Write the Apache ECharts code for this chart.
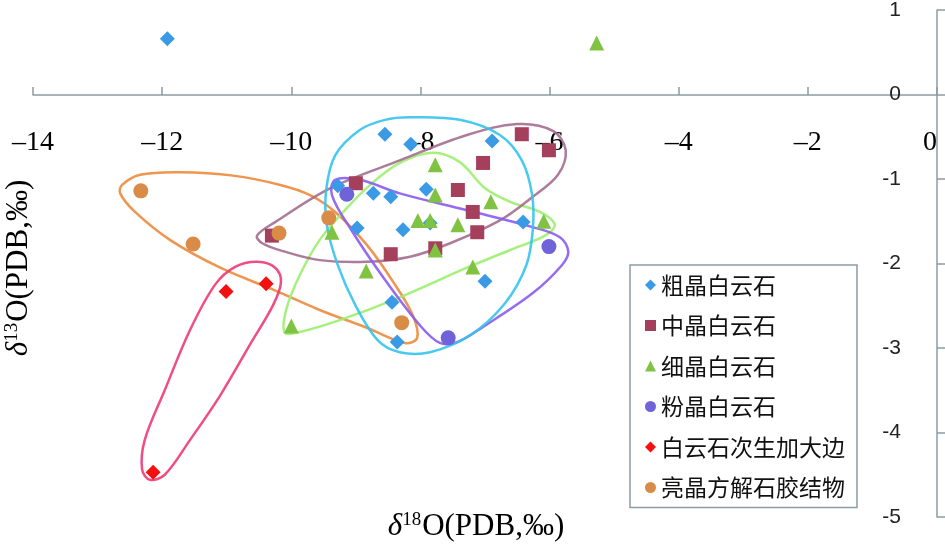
<!DOCTYPE html>
<html>
<head>
<meta charset="utf-8">
<script src="https://cdn.jsdelivr.net/npm/echarts@6/dist/echarts.min.js"></script>
<style>
  html, body { margin: 0; padding: 0; background: #fff; }
  #main { width: 945px; height: 554px; }
</style>
</head>
<body>
<div id="main"></div>
<script>
// series names (legend order)
const seriesNames = ['粗晶白云石', '中晶白云石', '细晶白云石', '粉晶白云石', '白云石次生加大边', '亮晶方解石胶结物']

// [δ18O, δ13C]
const coarse = [[-11.92, 0.66], [-8.55, -0.47], [-8.15, -0.59], [-9.28, -1.08], [-8.73, -1.17], [-8.46, -1.21], [-7.91, -1.12],
  [-8.98, -1.58], [-8.27, -1.60], [-7.85, -1.52], [-8.44, -2.46], [-8.36, -2.93], [-6.89, -0.55], [-6.41, -1.51], [-7.00, -2.21]]
const medium = [[-9.00, -1.05], [-8.46, -1.89], [-7.77, -1.82], [-6.43, -0.47], [-6.01, -0.66], [-7.03, -0.81], [-7.42, -1.13],
  [-7.19, -1.39], [-7.12, -1.63], [-10.30, -1.67]]
const fine = [[-5.27, 0.61], [-7.77, -0.83], [-7.77, -1.19], [-8.04, -1.49], [-7.85, -1.49], [-9.37, -1.63], [-7.77, -1.84],
  [-8.84, -2.09], [-6.91, -1.27], [-7.42, -1.54], [-6.09, -1.50], [-7.19, -2.04], [-10.00, -2.74]]
const powder = [[-9.14, -1.18], [-6.01, -1.80], [-7.57, -2.88]]
const overgrowth = [[-11.01, -2.33], [-10.39, -2.24], [-12.14, -4.47]]
const cement = [[-12.33, -1.14], [-11.52, -1.77], [-10.19, -1.64], [-9.42, -1.46], [-8.29, -2.70]]

// hand-drawn group outlines, in data units
const outlineCoarse = [[-8.16, -0.27], [-7.39, -0.30], [-6.77, -0.48], [-6.43, -0.78], [-6.27, -1.19], [-6.26, -1.60], [-6.36, -2.02],
  [-6.69, -2.47], [-7.23, -2.85], [-7.85, -3.05], [-8.32, -3.05], [-8.66, -2.91], [-9.01, -2.49], [-9.28, -2.02], [-9.45, -1.54],
  [-9.46, -1.13], [-9.32, -0.72], [-8.94, -0.42], [-8.55, -0.30]]
const outlineMedium = [[-10.53, -1.67], [-10.25, -1.51], [-9.40, -1.11], [-8.32, -0.78], [-7.28, -0.48], [-6.50, -0.35], [-5.95, -0.43],
  [-5.75, -0.66], [-5.87, -0.95], [-6.26, -1.21], [-6.77, -1.49], [-7.54, -1.76], [-8.16, -1.92], [-8.83, -1.98], [-9.56, -1.96],
  [-10.10, -1.86], [-10.45, -1.76]]
const outlineFine = [[-10.10, -2.82], [-10.08, -2.55], [-9.87, -2.14], [-9.56, -1.72], [-9.17, -1.37], [-8.78, -1.07], [-8.32, -0.81],
  [-7.81, -0.69], [-7.39, -0.80], [-7.00, -1.11], [-6.61, -1.27], [-6.15, -1.39], [-5.92, -1.54], [-6.07, -1.67], [-6.61, -1.84],
  [-7.28, -2.05], [-8.32, -2.40], [-9.25, -2.67], [-9.87, -2.81]]
const outlinePowder = [[-9.32, -1.01], [-8.94, -1.01], [-8.32, -1.17], [-7.28, -1.37], [-6.26, -1.57], [-5.84, -1.69], [-5.71, -1.86],
  [-5.81, -2.02], [-6.26, -2.35], [-7.03, -2.75], [-7.43, -2.93], [-7.70, -2.94], [-8.01, -2.73], [-8.58, -2.16], [-9.09, -1.58],
  [-9.37, -1.19]]
const outlineOvergrowth = [[-10.52, -1.98], [-10.25, -2.05], [-10.16, -2.22], [-10.28, -2.49], [-10.64, -2.96], [-11.10, -3.56],
  [-11.57, -4.09], [-11.96, -4.50], [-12.19, -4.56], [-12.31, -4.44], [-12.27, -4.09], [-11.96, -3.50], [-11.57, -2.79],
  [-11.18, -2.25], [-10.87, -2.04]]
const outlineCement = [[-12.62, -1.07], [-12.34, -0.95], [-11.72, -0.92], [-10.90, -0.96], [-10.17, -1.07], [-9.71, -1.19], [-9.32, -1.39],
  [-8.83, -1.78], [-8.42, -2.22], [-8.12, -2.61], [-8.05, -2.88], [-8.24, -2.94], [-8.83, -2.76], [-9.56, -2.55], [-10.28, -2.31],
  [-11.10, -2.05], [-11.88, -1.72], [-12.42, -1.39], [-12.65, -1.17]]

const outlines = [outlineCement, outlineOvergrowth, outlineFine, outlineMedium, outlinePowder, outlineCoarse]
const outlineColors = ['#ec8a3d', '#ee3b74', '#9cee70', '#a46e90', '#8a5cf0', '#35c3ee']

const markColors = ['#3b9ae6', '#a5405c', '#80c242', '#7062d8', '#f21010', '#d98c48']
const markSymbols = ['diamond', 'rect', 'triangle', 'circle', 'diamond', 'circle']
const markSizes = [15, 14, 15, 15, 15, 15]
const values = [coarse, medium, fine, powder, overgrowth, cement]

const xName = '{d|δ}{s|18}{n|O(PDB,‰)}'
const yName = '{d|δ}{s|13}{n|O(PDB,‰)}'

const serif = 'Liberation Serif'
const nameRich = {
  d: { fontFamily: serif, fontStyle: 'italic', fontSize: 31, fill: '#000' },
  s: { fontFamily: serif, fontSize: 19, fill: '#000', padding: [0, 1, 13, 0] },
  n: { fontFamily: serif, fontSize: 31, fill: '#000' }
}

const mainPage = document.getElementById('main')
var myChart = echarts.init(mainPage)

const scatterSeries = seriesNames.map((name, i) => ({
  name: name,
  type: 'scatter',
  data: values[i],
  symbol: markSymbols[i],
  symbolSize: markSizes[i],
  itemStyle: { color: markColors[i], opacity: 1 },
  z: 3
}))

var option = {
  backgroundColor: '#fff',
  animation: false,
  grid: { left: 33, right: 8, top: 10, bottom: 37, containLabel: false, outerBoundsMode: 'none' },
  legend: {
    data: seriesNames,
    orient: 'vertical',
    left: 630,
    top: 265,
    padding: [8, 12, 8, 15],
    itemGap: 16.5,
    itemWidth: 11,
    itemHeight: 11,
    borderColor: '#8d9ba4',
    borderWidth: 1.5,
    backgroundColor: '#fff',
    textStyle: { fontFamily: 'Noto Sans CJK SC', fontSize: 23, lineHeight: 24, color: '#111' }
  },
  graphic: [
    { type: 'text', x: 476, y: 527, z: 10,
      style: { text: xName, rich: nameRich, align: 'center', verticalAlign: 'middle' } },
    { type: 'text', x: 19, y: 268, rotation: Math.PI / 2, z: 10,
      style: { text: yName, rich: nameRich, align: 'center', verticalAlign: 'middle' } }
  ],
  xAxis: {
    type: 'value',
    min: -14,
    max: 0,
    interval: 2,
    offset: -422,
    axisLine: { onZero: false, lineStyle: { color: '#8d9ba4', width: 1.5 } },
    axisTick: { inside: true, length: 8, lineStyle: { color: '#8d9ba4', width: 1.5 } },
    axisLabel: { fontFamily: serif, fontSize: 28, color: '#000', margin: 34, alignMaxLabel: 'right',
      formatter: v => (v < 0 ? '\u2013' + Math.abs(v) : String(v)) },
    splitLine: { show: false }
  },
  yAxis: {
    type: 'value',
    position: 'right',
    min: -5,
    max: 1,
    interval: 1,
    axisLine: { onZero: false, lineStyle: { color: '#8d9ba4', width: 1.5 } },
    axisTick: { show: true, length: 8, lineStyle: { color: '#8d9ba4', width: 1.5 } },
    axisLabel: { inside: true, margin: 36, fontFamily: 'Liberation Sans', fontSize: 21, color: '#222' },
    splitLine: { show: false }
  },
  series: [{
    name: 'outlines',
    type: 'custom',
    silent: true,
    z: 2,
    data: outlines.map(o => o[0]),
    renderItem: (params, api) => {
      const pts = outlines[params.dataIndex].map(p => api.coord(p))
      return {
        type: 'polygon',
        shape: { points: pts, smooth: 0.35 },
        style: { fill: 'none', stroke: outlineColors[params.dataIndex], lineWidth: 2.5, opacity: 0.9 }
      }
    }
  }].concat(scatterSeries)
}

myChart.setOption(option)
</script>
</body>
</html>
